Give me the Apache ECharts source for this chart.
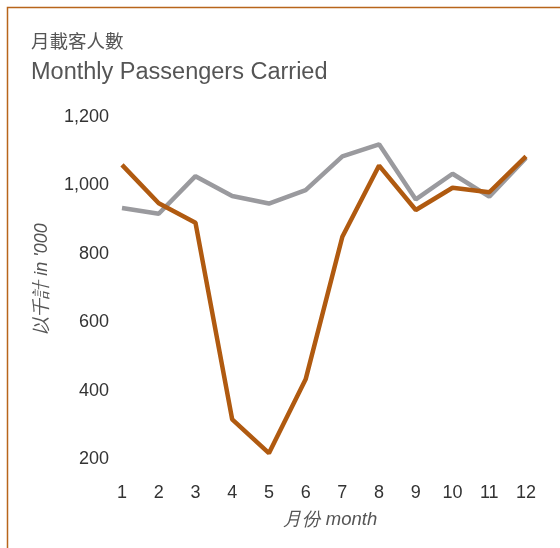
<!DOCTYPE html>
<html>
<head>
<meta charset="utf-8">
<script src="https://cdn.jsdelivr.net/npm/echarts@6/dist/echarts.min.js"></script>
<style>html,body{margin:0;padding:0;background:#fff;}#c{width:560px;height:548px;}</style>
</head>
<body>
<div id="c"></div>
<script>
const months = ['1','2','3','4','5','6','7','8','9','10','11','12'];
const seriesA = [1060, 948, 891, 316, 217, 433, 850, 1058, 928, 993, 980, 1085]; // orange
const seriesB = [934, 917, 1027, 969, 947, 986, 1085, 1120, 959, 1034, 967, 1080]; // gray
const yTicks = [200, 400, 600, 800, 1000, 1200];
const titleZh = '月載客人數';
const titleEn = 'Monthly Passengers Carried';
const yName = '以千計 in \'000';
const xName = '月份 month';

const chart = echarts.init(document.getElementById('c'), null, {renderer: 'canvas'});
const font = '"Liberation Sans", Arial, sans-serif';
chart.setOption({
  animation: false,
  title: [
    {text: titleZh, left: 26, top: 27, textStyle: {fontFamily: '"Noto Sans CJK TC", sans-serif', fontSize: 18.5, fontWeight: 'normal', color: '#555'}},
    {text: titleEn, left: 26, top: 56, textStyle: {fontFamily: font, fontSize: 23.5, fontWeight: 'normal', color: '#555'}}
  ],
  graphic: [
    {type: 'rect', shape: {x: 7.5, y: 7.5, width: 700, height: 700}, style: {fill: 'none', stroke: '#b8651b', lineWidth: 1.5}, silent: true},
    {type: 'text', x: 42, y: 279, rotation: Math.PI / 2,
      style: {text: yName, font: 'italic 18px ' + font, fill: '#555', align: 'center', verticalAlign: 'middle'}},
    {type: 'text', x: 330, y: 520,
      style: {text: xName, font: 'italic 18.5px ' + font, fill: '#555', align: 'center', verticalAlign: 'middle'}}
  ],
  grid: {left: 122, right: 34, top: 117, bottom: 89, containLabel: false},
  xAxis: {
    type: 'category', data: months, boundaryGap: false,
    axisLine: {show: false}, axisTick: {show: false},
    axisLabel: {fontFamily: font, fontSize: 18, color: '#333', margin: 25}
  },
  yAxis: {
    type: 'value', min: 200, max: 1200, interval: 200,
    axisLine: {show: false}, axisTick: {show: false}, splitLine: {show: false},
    axisLabel: {fontFamily: font, fontSize: 18, color: '#333', margin: 13,
      formatter: v => yTicks.includes(v) ? v.toLocaleString('en-US') : ''}
  },
  series: [
    {type: 'line', data: seriesB, symbol: 'none', lineStyle: {color: '#9a9a9e', width: 4.5}, itemStyle: {color: '#9a9a9e'}},
    {type: 'line', data: seriesA, symbol: 'none', lineStyle: {color: '#b05a10', width: 4.5}, itemStyle: {color: '#b05a10'}}
  ]
});
</script>
</body>
</html>
